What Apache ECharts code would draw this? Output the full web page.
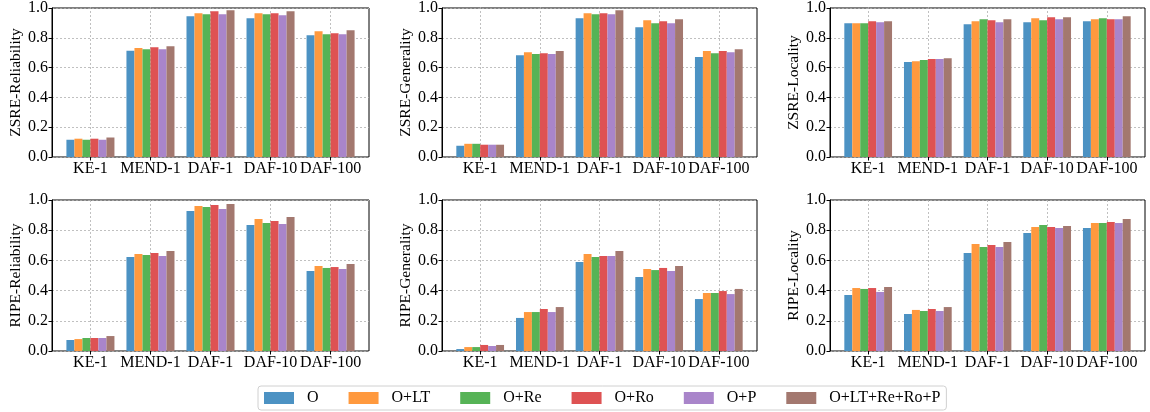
<!DOCTYPE html>
<html><head><meta charset="utf-8">
<script src="https://cdn.jsdelivr.net/npm/echarts@6/dist/echarts.min.js"></script>
<style>html,body{margin:0;padding:0;background:#fff}#c{width:1150px;height:412px}</style>
</head><body><div id="c"></div>
<script>
const categories = ['KE-1','MEND-1','DAF-1','DAF-10','DAF-100'];
const seriesNames = ['O','O+LT','O+Re','O+Ro','O+P','O+LT+Re+Ro+P'];
const yTicks = [0,0.2,0.4,0.6,0.8,1.0];
const panelTitles = ['ZSRE-Reliability','ZSRE-Generality','ZSRE-Locality','RIPE-Reliability','RIPE-Generality','RIPE-Locality'];
// values per panel: rows = series, columns = categories
const zsreReliability = [
  [0.115,0.708,0.938,0.925,0.812],
  [0.122,0.726,0.958,0.958,0.838],
  [0.115,0.719,0.951,0.951,0.819],
  [0.122,0.732,0.971,0.958,0.825],
  [0.115,0.719,0.951,0.945,0.819],
  [0.130,0.739,0.978,0.971,0.845]
];
const zsreGenerality = [
  [0.075,0.679,0.925,0.865,0.666],
  [0.088,0.699,0.958,0.912,0.706],
  [0.088,0.686,0.951,0.892,0.692],
  [0.082,0.692,0.958,0.905,0.706],
  [0.082,0.686,0.951,0.892,0.699],
  [0.082,0.706,0.978,0.918,0.719]
];
const zsreLocality = [
  [0.892,0.633,0.885,0.898,0.905],
  [0.892,0.639,0.905,0.925,0.918],
  [0.892,0.646,0.918,0.912,0.925],
  [0.905,0.653,0.912,0.931,0.918],
  [0.898,0.653,0.898,0.918,0.918],
  [0.905,0.659,0.918,0.931,0.938]
];
const ripeReliability = [
  [0.073,0.623,0.927,0.834,0.530],
  [0.079,0.643,0.960,0.874,0.563],
  [0.086,0.636,0.954,0.848,0.550],
  [0.086,0.649,0.967,0.861,0.556],
  [0.086,0.629,0.940,0.841,0.543],
  [0.099,0.662,0.974,0.887,0.576]
];
const ripeGenerality = [
  [0.013,0.219,0.589,0.490,0.344],
  [0.026,0.258,0.642,0.543,0.384],
  [0.026,0.258,0.623,0.536,0.384],
  [0.040,0.278,0.629,0.550,0.397],
  [0.033,0.258,0.629,0.530,0.377],
  [0.040,0.291,0.662,0.563,0.411]
];
const ripeLocality = [
  [0.371,0.245,0.649,0.781,0.815],
  [0.417,0.272,0.709,0.821,0.848],
  [0.411,0.265,0.689,0.834,0.848],
  [0.417,0.278,0.702,0.821,0.854],
  [0.391,0.265,0.689,0.815,0.848],
  [0.424,0.291,0.722,0.828,0.874]
];
const panelData = [zsreReliability,zsreGenerality,zsreLocality,ripeReliability,ripeGenerality,ripeLocality];
const colors = ['#4c92c3','#ff993e','#56b356','#de5253','#a985ca','#a3786f'];

const FONT = '"Liberation Serif","Times New Roman",serif';
const cols = [[52,369],[442,757],[830,1145]];
const rows = [[7,157],[200,351]];
const W = 1150, H = 412;
const grids=[], xAxes=[], yAxes=[], series=[];
const gridLine = {color:'#b0b0b0', type:[2,2], width:0.8};
for (let p=0;p<6;p++){
  const c = cols[p%3], r = rows[Math.floor(p/3)];
  const w = c[1]-c[0];
  // matplotlib default x margins: data span -0.4..4.4 plus 5% -> -0.64..4.64
  const unit = w/5.28;
  const inset = 0.14*unit;
  const outer = grids.length;
  grids.push({left:c[0], top:r[0], width:w, height:r[1]-r[0], show:true, borderColor:'#000', borderWidth:1, backgroundColor:'transparent'});
  xAxes.push({type:'category', gridIndex:outer, data:categories, show:false});
  yAxes.push({type:'value', gridIndex:outer, min:0, max:1, interval:0.2,
    name:panelTitles[p], nameLocation:'middle', nameGap:27, nameRotate:90,
    nameTextStyle:{fontFamily:FONT,fontSize:15.5,color:'#000'},
    axisLine:{show:true,lineStyle:{color:'#000',width:1}},
    axisTick:{show:true,length:3.5,lineStyle:{color:'#000'}},
    axisLabel:{fontFamily:FONT,fontSize:16,color:'#000',margin:4,formatter:v=>v.toFixed(1)},
    splitLine:{show:true,lineStyle:gridLine}});
  const inner = grids.length;
  grids.push({left:c[0]+inset, top:r[0], width:w-2*inset, height:r[1]-r[0], show:false});
  xAxes.push({type:'category', gridIndex:inner, data:categories,
    axisLine:{show:false},
    axisTick:{show:true,alignWithLabel:true,length:3.5,lineStyle:{color:'#000'}},
    axisLabel:{fontFamily:FONT,fontSize:16,color:'#000',margin:4,interval:0},
    splitLine:{show:true,alignWithLabel:true,lineStyle:gridLine}});
  yAxes.push({type:'value', gridIndex:inner, min:0, max:1, show:false, splitLine:{show:false}});
  for (let s=0;s<6;s++){
    series.push({type:'bar', name:seriesNames[s], xAxisIndex:inner, yAxisIndex:inner,
      data:panelData[p][s], itemStyle:{color:colors[s]},
      barGap:'0%', barCategoryGap:'20%', silent:true, z:3});
  }
}
const chart = echarts.init(document.getElementById('c'),null,{renderer:'canvas',width:W,height:H});
chart.setOption({
  animation:false,
  color:colors,
  grid:grids, xAxis:xAxes, yAxis:yAxes, series:series,
  legend:{data:seriesNames, left:258, top:386, itemWidth:30, itemHeight:12, itemGap:30,
    padding:[4,6,4,6], borderColor:'#d0d0d0', borderWidth:1, borderRadius:3,
    icon:'rect', textStyle:{fontFamily:FONT,fontSize:16,color:'#000',padding:[0,0,0,8]}, selectedMode:false}
});
</script></body></html>
